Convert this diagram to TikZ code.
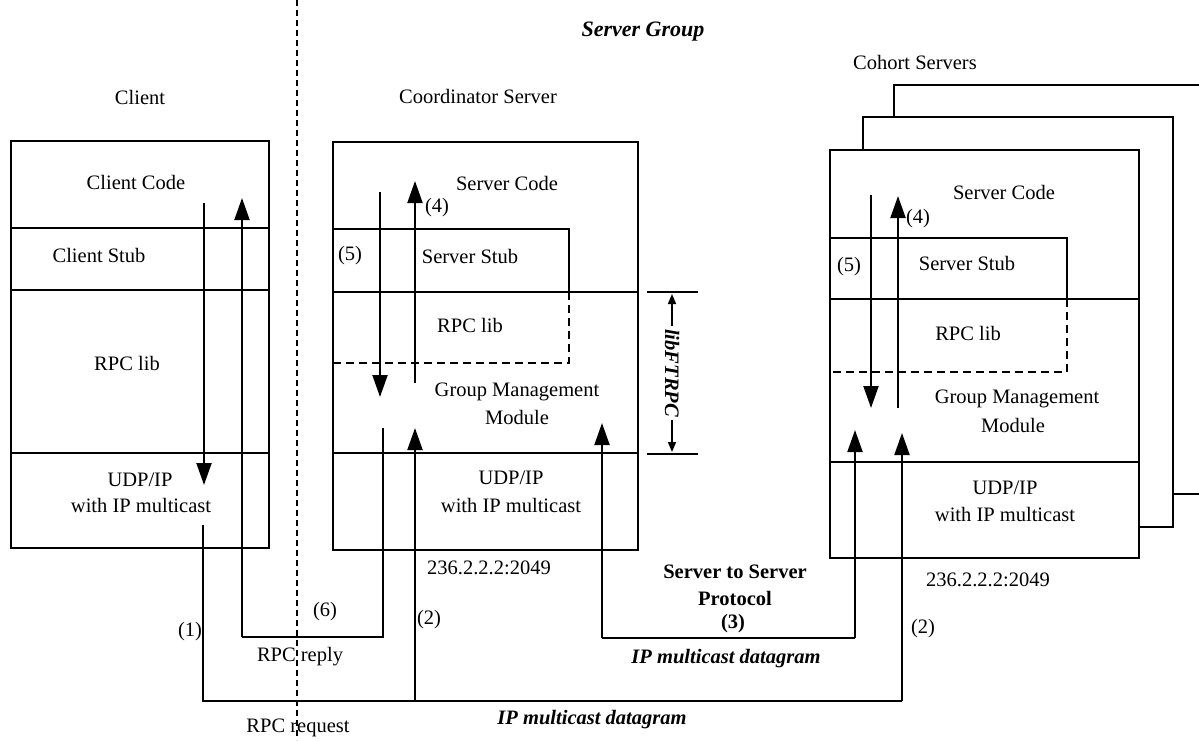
\documentclass[tikz,border=0pt]{standalone}
\usepackage{fontspec}
\setmainfont{Liberation Serif}
\usetikzlibrary{arrows.meta}
\begin{document}
\begin{tikzpicture}[x=1pt,y=-1pt,
  lbl/.style={font=\fontsize{20.5}{24}\selectfont, inner sep=0pt, anchor=center},
  bld/.style={font=\fontsize{20.5}{24}\selectfont\bfseries, inner sep=0pt, anchor=center},
  bit/.style={font=\fontsize{20.5}{24}\selectfont\bfseries\itshape, inner sep=0pt, anchor=center},
  frame/.style={line width=2.4pt},
  partition/.style={line width=2pt, dash pattern=on 8pt off 5pt},
  separator/.style={line width=2.2pt, dash pattern=on 6pt off 4pt},
  flow/.style={line width=2pt, -{Triangle[length=22pt,width=15pt]}},
  wire/.style={line width=2pt},
  span/.style={line width=1.6pt, {Triangle[length=10pt,width=8pt]}-{Triangle[length=10pt,width=8pt]}}
]
\fill[white] (0,0) rectangle (1199,740);
\useasboundingbox (0,0) rectangle (1199,740);
\clip (0,0) rectangle (1199,740);

% ---------- headings ----------
\node[bit, font=\fontsize{22}{26}\selectfont\bfseries\itshape] (grp) at (643,32) {Server Group};
\node[lbl] (clientT) at (140,97) {Client};
\node[lbl] (coordT) at (478,96) {Coordinator Server};
\node[lbl] (cohortT) at (915,62) {Cohort Servers};

% ---------- client/server boundary ----------
\coordinate (sepTop) at (297,0);
\coordinate (sepBot) at (297,740);
\draw[separator] (sepTop) -- (sepBot);

% ---------- client stack ----------
\draw[frame] (11,141) rectangle (269,548);
\draw[frame] (11,228) -- (269,228);
\draw[frame] (11,290) -- (269,290);
\draw[frame] (11,453) -- (269,453);
\node[lbl] (cCode) at (136,182) {Client Code};
\node[lbl] (cStub) at (99,255) {Client Stub};
\node[lbl] (cRpc) at (127,363) {RPC lib};
\node[lbl] (cUdp) at (140,480) {UDP/IP};
\node[lbl] (cMc) at (141,505) {with IP multicast};

% ---------- coordinator stack ----------
\draw[frame] (333,142) rectangle (638,550);
\draw[frame] (333,229) -- (569,229) -- (569,292);
\draw[frame] (333,292) -- (638,292);
\draw[partition] (569,292) -- (569,363) -- (333,363);
\draw[frame] (333,453) -- (638,453);
\node[lbl] (sCode) at (507,183) {Server Code};
\node[lbl] (sStub) at (470,256) {Server Stub};
\node[lbl] (sRpc) at (470,325) {RPC lib};
\node[lbl] (sGm1) at (517,392) {Group Management};
\node[lbl] (sGm2) at (517,417) {Module};
\node[lbl] (sUdp) at (511,478) {UDP/IP};
\node[lbl] (sMc) at (511,505) {with IP multicast};
\node[lbl] (sAddr) at (489,568) {236.2.2.2:2049};
\node[lbl] (s4) at (437,208) {(4)};
\node[lbl] (s5) at (350,256) {(5)};

% ---------- libFTRPC extent ----------
\coordinate (libA) at (647,292); \coordinate (libB) at (698,292);
\coordinate (libC) at (647,454); \coordinate (libD) at (698,454);
\draw[frame] (libA) -- (libB);
\draw[frame] (libC) -- (libD);
\coordinate (libTop) at (672,294); \coordinate (libBot) at (672,452);
\draw[span] (libTop) -- (libBot);
\node[bit, rotate=-90, fill=white, inner sep=3pt] (libft) at (672,373) {libFTRPC};

% ---------- cohort stacks ----------
\draw[frame, fill=white] (894,85) rectangle (1240,494);
\draw[frame, fill=white] (863,117) rectangle (1173,527);
\draw[frame, fill=white] (830,150) rectangle (1139,558);
\draw[frame] (830,238) -- (1067,238) -- (1067,299);
\draw[frame] (830,299) -- (1139,299);
\draw[partition] (1067,299) -- (1067,372) -- (830,372);
\draw[frame] (830,462) -- (1139,462);
\node[lbl] (kCode) at (1004,192) {Server Code};
\node[lbl] (kStub) at (967,263) {Server Stub};
\node[lbl] (kRpc) at (968,333) {RPC lib};
\node[lbl] (kGm1) at (1017,399) {Group Management};
\node[lbl] (kGm2) at (1013,425) {Module};
\node[lbl] (kUdp) at (1005,488) {UDP/IP};
\node[lbl] (kMc) at (1005,514) {with IP multicast};
\node[lbl] (kAddr) at (988,580) {236.2.2.2:2049};
\node[lbl] (k4) at (918,219) {(4)};
\node[lbl] (k5) at (849,267) {(5)};

% ---------- call path inside the client ----------
\coordinate (cDownA) at (204,203); \coordinate (cDownB) at (204,485);
\draw[flow] (cDownA) -- (cDownB);

% ---------- RPC request (multicast to the group) ----------
\coordinate (reqA) at (203,525);
\coordinate (reqB) at (203,701);
\coordinate (reqC) at (902,701);
\coordinate (reqTip) at (902,433);
\coordinate (reqJ) at (415,701);
\coordinate (reqTip2) at (415,428);
\draw[wire] (reqA) -- (reqB) -- (reqC);
\draw[flow] (reqC) -- (reqTip);
\draw[flow] (reqJ) -- (reqTip2);

% ---------- RPC reply ----------
\coordinate (repA) at (383,428);
\coordinate (repB) at (383,637);
\coordinate (repC) at (242,637);
\coordinate (repTip) at (242,198);
\draw[wire] (repA) -- (repB) -- (repC);
\draw[flow] (repC) -- (repTip);

% ---------- coordinator up/down calls ----------
\coordinate (sDownA) at (380,192); \coordinate (sDownB) at (380,397);
\coordinate (sUpA) at (415,383); \coordinate (sUpB) at (415,181);
\draw[flow] (sDownA) -- (sDownB);
\draw[flow] (sUpA) -- (sUpB);

% ---------- cohort up/down calls ----------
\coordinate (kDownA) at (871,195); \coordinate (kDownB) at (871,408);
\coordinate (kUpA) at (898,408); \coordinate (kUpB) at (898,196);
\draw[flow] (kDownA) -- (kDownB);
\draw[flow] (kUpA) -- (kUpB);

% ---------- server to server protocol ----------
\coordinate (ssTipL) at (602,423);
\coordinate (ssL) at (602,638);
\coordinate (ssR) at (855,638);
\coordinate (ssTipR) at (855,430);
\draw[wire] (ssL) -- (ssR);
\draw[flow] (ssL) -- (ssTipL);
\draw[flow] (ssR) -- (ssTipR);

% ---------- path labels ----------
\node[lbl] (n1) at (190,632) {(1)};
\node[lbl] (n6) at (325,612) {(6)};
\node[lbl] (n2a) at (429,620) {(2)};
\node[lbl] (n2b) at (923,629) {(2)};
\node[lbl] (reply) at (300,657) {RPC reply};
\node[lbl] (request) at (298,728) {RPC request};
\node[bld] (ss1) at (735,572) {Server to Server};
\node[bld] (ss2) at (735,598) {Protocol};
\node[bld] (ss3) at (733,624) {(3)};
\node[bit] (dg1) at (726,659) {IP multicast datagram};
\node[bit] (dg2) at (592,720) {IP multicast datagram};
\end{tikzpicture}
\end{document}
